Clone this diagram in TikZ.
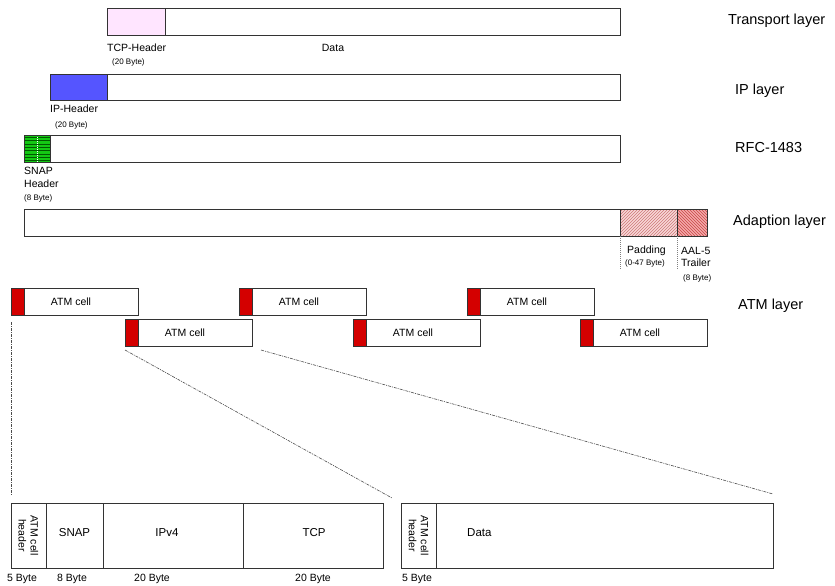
\documentclass[tikz,border=0pt]{standalone}
\usepackage{fontspec}
\setmainfont{Liberation Sans}
\definecolor{tcppink}{RGB}{255,229,255}
\definecolor{ipblue}{RGB}{85,85,255}
\definecolor{snapgreen}{RGB}{20,200,20}
\definecolor{snapdark}{RGB}{0,90,0}
\definecolor{padfill}{RGB}{248,215,215}
\definecolor{padline}{RGB}{205,120,120}
\definecolor{trlfill}{RGB}{244,170,170}
\definecolor{trlline}{RGB}{200,70,70}
\definecolor{cellred}{RGB}{212,0,0}
\begin{document}
\begin{tikzpicture}[x=1pt,y=-1pt,
  box/.style={draw=black!80, line width=0.7pt, fill=white, inner sep=0pt, outer sep=0pt, anchor=north west},
  lbl/.style={font=\fontsize{14.5}{17}\selectfont, anchor=west, inner sep=0pt},
  small/.style={font=\fontsize{10.5}{12}\selectfont, inner sep=0pt},
  mid/.style={font=\fontsize{11.5}{13}\selectfont, inner sep=0pt},
  tiny/.style={font=\fontsize{8}{9.5}\selectfont, inner sep=0pt},
  link/.style={draw=black!70, line width=0.6pt, dash pattern=on 3pt off 1pt on 1pt off 1pt},
  dotl/.style={draw=black!50, line width=0.6pt, dash pattern=on 1pt off 1pt},
  cell/.style={box, minimum width=127pt, minimum height=27pt},
  cellhdr/.style={box, fill=cellred, minimum width=13pt, minimum height=27pt},
]
\useasboundingbox (0,0) rectangle (835,586);

% Transport layer
\node[box, minimum width=513pt, minimum height=27pt] (tr) at (107,8) {};
\node[box, fill=tcppink, minimum width=58pt, minimum height=27pt] (trh) at (107,8) {};
\node[small, anchor=west] (tcphl) at (107,48) {TCP-Header};
\node[tiny, anchor=west] (tcphb) at (112,62) {(20 Byte)};
\node[small] (datal) at (333,48) {Data};
\node[lbl] (trl) at (728,21) {Transport layer};

% IP layer
\node[box, minimum width=570pt, minimum height=26pt] (ip) at (50,74) {};
\node[box, fill=ipblue, minimum width=57pt, minimum height=26pt] (iph) at (50,74) {};
\node[small, anchor=west] (iphl) at (50,109) {IP-Header};
\node[tiny, anchor=west] (iphb) at (55,125) {(20 Byte)};
\node[lbl] (ipl) at (735,91) {IP layer};

% RFC-1483
\node[box, minimum width=596pt, minimum height=27pt] (rfc) at (24,135) {};
\node[box, fill=snapgreen, minimum width=26pt, minimum height=27pt] (snh) at (24,135) {};
\begin{scope}
  \clip (24,135) rectangle (50,162);
  \foreach \yy in {137.5,140.8,...,162} {\draw[snapdark, line width=0.8pt] (24,\yy) -- (50,\yy);}
  \draw[white, line width=0.4pt, dash pattern=on 1pt off 1pt] (37,135) -- (37,162);
\end{scope}
\draw[black!80, line width=0.7pt] (24,135) rectangle (50,162);
\node[small, anchor=west] (snl1) at (24,171) {SNAP};
\node[small, anchor=west] (snl2) at (24,184) {Header};
\node[tiny, anchor=west] (snl3) at (24,198) {(8 Byte)};
\node[lbl] (rfcl) at (735,148) {RFC-1483};

% Adaption layer
\node[box, minimum width=596pt, minimum height=27pt] (aal) at (24,209) {};
\node[box, fill=padfill, minimum width=57pt, minimum height=27pt] (pad) at (620,209) {};
\node[box, fill=trlfill, minimum width=30pt, minimum height=27pt] (trlr) at (677,209) {};
\begin{scope}
  \clip (620,209) rectangle (677,236);
  \foreach \xx in {590,593,...,680} {\draw[padline, line width=0.5pt] (\xx,236) -- (\xx+27,209);}
\end{scope}
\begin{scope}
  \clip (677,209) rectangle (707,236);
  \foreach \xx in {650,653,...,710} {\draw[trlline, line width=0.5pt] (\xx,209) -- (\xx+27,236);}
\end{scope}
\draw[black!80, line width=0.7pt] (620,209) rectangle (707,236);
\draw[black!80, line width=0.7pt] (677,209) -- (677,236);
\draw[dotl] (pad.south west) -- ++(0,34);
\draw[dotl] (pad.south east) -- ++(0,34);
\node[small, anchor=west] (padl) at (627,251) {Padding};
\node[tiny, anchor=west] (padb) at (625,263) {(0-47 Byte)};
\node[small, anchor=west] (aall1) at (681,251) {AAL-5};
\node[small, anchor=west] (aall2) at (681,263) {Trailer};
\node[tiny, anchor=west] (aall3) at (683,278) {(8 Byte)};
\node[lbl] (adl) at (733,222) {Adaption layer};

% ATM layer
\foreach \nm/\xx/\yy in {c1/11/288, c2/125/319, c3/239/288, c4/353/319, c5/467/288, c6/580/319} {
  \node[cell] (\nm) at (\xx,\yy) {};
  \node[cellhdr] (\nm h) at (\xx,\yy) {};
  \node[small] (\nm t) at (\xx+60,\yy+13.5) {ATM cell};
}
\node[lbl] (atml) at (738,306) {ATM layer};

% Lower left cell
\node[box, minimum width=35pt, minimum height=65pt] (hd1) at (11,503) {};
\node[box, minimum width=57pt, minimum height=65pt] (snap) at (46,503) {};
\node[box, minimum width=140pt, minimum height=65pt] (ipv4) at (103,503) {};
\node[box, minimum width=140pt, minimum height=65pt] (tcp) at (243,503) {};
\node[small, rotate=-90, align=center] (hd1t) at (hd1.center) {ATM cell\\header};
\node[mid] (snapt) at (74.5,533) {SNAP};
\node[mid] (ipv4t) at (167,533) {IPv4};
\node[mid] (tcpt) at (314,533) {TCP};
\node[small] (b1) at (22,579) {5 Byte};
\node[small] (b2) at (72,579) {8 Byte};
\node[small] (b3) at (152,579) {20 Byte};
\node[small] (b4) at (313,579) {20 Byte};

% Lower right cell
\node[box, minimum width=35pt, minimum height=65pt] (hd2) at (401,503) {};
\node[box, minimum width=337pt, minimum height=65pt] (data) at (436,503) {};
\node[small, rotate=-90, align=center] (hd2t) at (hd2.center) {ATM cell\\header};
\node[mid, anchor=west] (datat) at (467,533) {Data};
\node[small, anchor=west] (b5) at (402,579) {5 Byte};

% Zoom lines
\draw[link] ([yshift=-7pt]c1.south west) -- ([yshift=8pt]hd1.north west);
\draw[link] ([yshift=-4pt]c2.south west) -- ([shift={(9pt,5pt)}]tcp.north east);
\draw[link] ([shift={(9pt,-4pt)}]c2.south east) -- ([yshift=9pt]data.north east);
\end{tikzpicture}
\end{document}
